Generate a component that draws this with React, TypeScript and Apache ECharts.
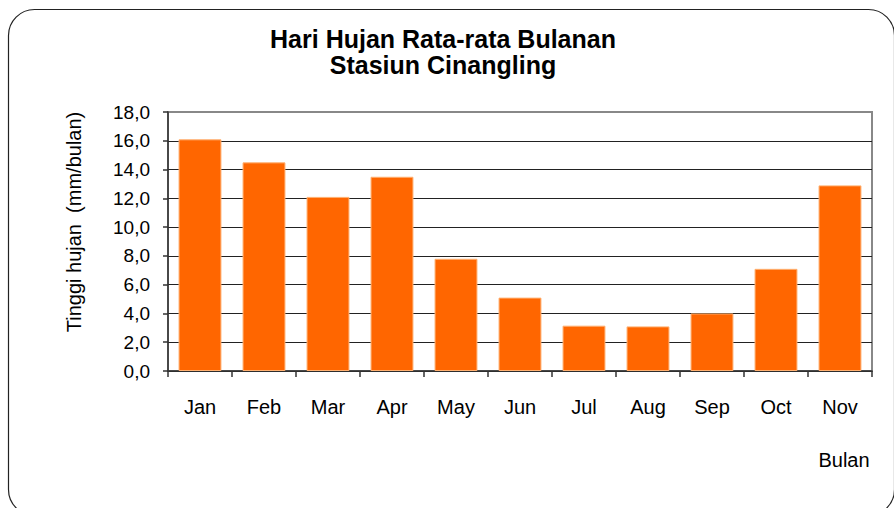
import React, { useEffect, useRef } from "react";
import * as echarts from "echarts";

const months = ["Jan", "Feb", "Mar", "Apr", "May", "Jun", "Jul", "Aug", "Sep", "Oct", "Nov"];
const rainyDays = [16.1, 14.5, 12.1, 13.5, 7.8, 5.1, 3.15, 3.1, 4.0, 7.1, 12.9];
const titleLines = ["Hari Hujan Rata-rata Bulanan", "Stasiun Cinangling"];
const yAxisTitle = "Tinggi hujan  (mm/bulan)";
const xAxisTitle = "Bulan";

const FONT = "'Liberation Sans', Arial, sans-serif";

export default function App() {
  const ref = useRef<HTMLDivElement>(null);
  useEffect(() => {
    if (!ref.current) return;
    const chart = echarts.init(ref.current, null, { renderer: "svg" });
    const splitColors = ["#222", "#222", "#222", "#222", "#222", "#222", "#222", "#222", "#222", "#888"];
    chart.setOption({
      animation: false,
      backgroundColor: "#fff",
      textStyle: { fontFamily: FONT },
      graphic: [
        {
          type: "rect",
          shape: { x: 8.5, y: 9.5, width: 886, height: 506, r: 26 },
          style: { fill: "none", stroke: "#222", lineWidth: 1.2 },
          silent: true,
        },
        {
          type: "text",
          x: 443,
          y: 52,
          style: {
            text: titleLines.join("\n"),
            font: `bold 25px ${FONT}`,
            lineHeight: 25.5,
            fill: "#000",
            align: "center",
            verticalAlign: "middle",
          },
        },
        {
          type: "text",
          x: 74,
          y: 222,
          rotation: Math.PI / 2,
          style: {
            text: yAxisTitle,
            font: `20px ${FONT}`,
            fill: "#000",
            align: "center",
            verticalAlign: "middle",
          },
        },
        {
          type: "text",
          x: 844,
          y: 460,
          style: {
            text: xAxisTitle,
            font: `20px ${FONT}`,
            fill: "#000",
            align: "center",
            verticalAlign: "middle",
          },
        },
      ],
      grid: {
        left: 168,
        right: 22,
        top: 112,
        bottom: 137,
        show: true,
        borderColor: "#888",
        borderWidth: 2,
        backgroundColor: "transparent",
      },
      xAxis: {
        type: "category",
        data: months,
        axisLine: { show: true, lineStyle: { color: "#333", width: 1.5 } },
        axisTick: { show: true, length: 6, alignWithLabel: false, lineStyle: { color: "#333", width: 1.5 } },
        axisLabel: { color: "#000", fontSize: 20, fontFamily: FONT, margin: 26 },
        splitLine: { show: false },
      },
      yAxis: {
        type: "value",
        min: 0,
        max: 18,
        interval: 2,
        axisLine: { show: true, lineStyle: { color: "#333", width: 1.5 } },
        axisTick: { show: true, length: 5, lineStyle: { color: "#333", width: 1.5 } },
        axisLabel: {
          color: "#000",
          fontSize: 19,
          fontFamily: FONT,
          margin: 18,
          formatter: (v: number) => v.toFixed(1).replace(".", ","),
        },
        splitLine: { show: true, lineStyle: { color: splitColors, width: 1.2 } },
      },
      series: [
        {
          type: "bar",
          data: rainyDays,
          barCategoryGap: "33%",
          itemStyle: { color: "#FF6600", borderColor: "#FFB070", borderWidth: 1 },
        },
      ],
    });
    return () => chart.dispose();
  }, []);
  return (
    <div
      ref={ref}
      style={{ position: "fixed", left: 0, top: 0, width: 894, height: 508 }}
    />
  );
}
